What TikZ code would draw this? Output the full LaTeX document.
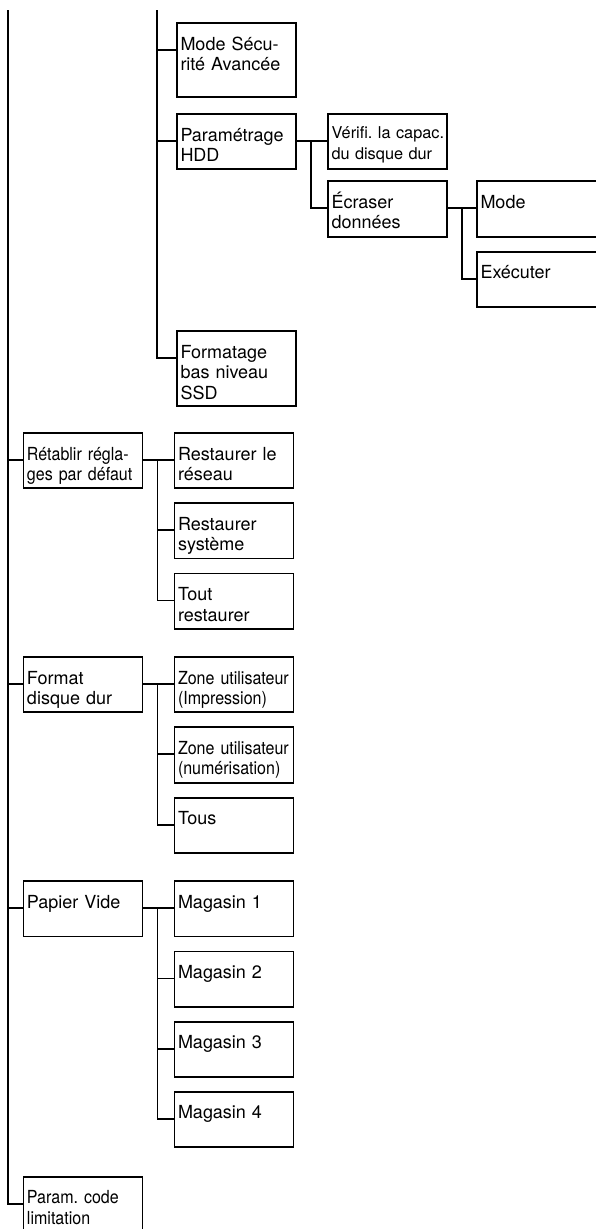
\documentclass[tikz,border=0pt]{standalone}
\usepackage{fontspec}
\setmainfont{TeX Gyre Heros}
\newfontfamily\narrowfont{TeX Gyre Heros}[FakeStretch=0.89]
\usetikzlibrary{positioning, calc}
\tikzset{
    menu_item/.style={
        rectangle,
        draw=black,
        line width=1.9pt,
        outer sep=0pt,
        inner xsep=3.5pt,
        inner ysep=0pt,
        text width=112pt,
        text height=27pt,
        text depth=28.2pt,
        align=left,
        font=\frenchspacing\fontsize{18}{20.5}\selectfont
    },
    menu_tall/.style={
        menu_item,
        text depth=47.2pt
    },
    menu_narrow/.style={
        font=\frenchspacing\narrowfont\fontsize{18}{20.5}\selectfont
    },
    menu_small/.style={
        text height=24pt,
        text depth=31.2pt,
        font=\frenchspacing\fontsize{16.3}{21.6}\selectfont
    },
    menu_link/.style={
        line width=1.9pt
    }
}

\begin{document}
\begin{tikzpicture}[node distance=15pt and 32pt]
\useasboundingbox (0,0) rectangle (596pt,-1229pt);
\clip (0,0) rectangle (596pt,-1229pt);

% Branches continued from the previous page
\coordinate (spineTop) at (8pt,-10pt);
\coordinate (subTop) at (157pt,-10pt);

% Security and HDD sub-menus
\node[menu_tall, anchor=north west] (AdvSecurity) at (177pt,-23pt) {Mode Sécu-\\rité Avancée};
\node[menu_item, below=17pt of AdvSecurity] (HddSettings) {Paramétrage\\HDD};
\node[menu_item, menu_small, right=of HddSettings] (HddCheck) {\mbox{Vérifi. la capac.}\\du disque dur};
\node[menu_item, below=12pt of HddCheck] (Overwrite) {Écraser\\données};
\node[menu_item, right=30pt of Overwrite.north east, anchor=north west, text width=125pt] (OverwriteMode) {Mode};
\node[menu_item, below=15pt of OverwriteMode, text width=125pt] (OverwriteRun) {Exécuter};
\node[menu_tall, below=162pt of HddSettings] (SsdFormat) {Formatage\\bas niveau\\SSD};

% Reset menu
\node[menu_item, below=27.5pt of SsdFormat, xshift=-2.5pt] (NetReset) {Restaurer le\\réseau};
\node[menu_item, menu_narrow, left=of NetReset] (Defaults) {Rétablir régla-\\ges par défaut};
\node[menu_item, below=of NetReset] (SysReset) {Restaurer\\système};
\node[menu_item, below=of SysReset] (AllReset) {Tout\\restaurer};

% Disk format menu
\node[menu_item, menu_narrow, below=28.5pt of AllReset] (PrintZone) {Zone utilisateur\\(Impression)};
\node[menu_item, left=of PrintZone] (DiskFormat) {Format\\disque dur};
\node[menu_item, menu_narrow, below=of PrintZone] (ScanZone) {Zone utilisateur\\(numérisation)};
\node[menu_item, below=of ScanZone] (AllZones) {Tous};

% Paper empty menu
\node[menu_item, below=28.5pt of AllZones] (Tray1) {Magasin 1};
\node[menu_item, left=of Tray1] (PaperEmpty) {Papier Vide};
\foreach \i [count=\j from 1] in {2,3,4}
  \node[menu_item, below=15pt of Tray\j] (Tray\i) {Magasin \i};

\node[menu_item, menu_narrow, anchor=north, yshift=-29.5pt] (CodeLimit) at (Tray4.south -| PaperEmpty.south) {Param. code\\limitation};

% Links
\foreach \child in {Defaults, DiskFormat, PaperEmpty, CodeLimit}
  \draw[menu_link] (spineTop) |- (\child.base west);
\foreach \child in {AdvSecurity, HddSettings, SsdFormat}
  \draw[menu_link] (subTop) |- (\child.base west);
\draw[menu_link] (HddSettings.base east) -- (HddSettings.base east -| HddCheck.west);
\foreach \parent/\child in {HddSettings/Overwrite,
    Overwrite/OverwriteMode, Overwrite/OverwriteRun,
    Defaults/NetReset, Defaults/SysReset, Defaults/AllReset,
    DiskFormat/PrintZone, DiskFormat/ScanZone, DiskFormat/AllZones,
    PaperEmpty/Tray1, PaperEmpty/Tray2, PaperEmpty/Tray3, PaperEmpty/Tray4}
  \draw[menu_link] (\parent.base east) -- ++(15pt,0) |- (\child.base west);

\end{tikzpicture}
\end{document}
